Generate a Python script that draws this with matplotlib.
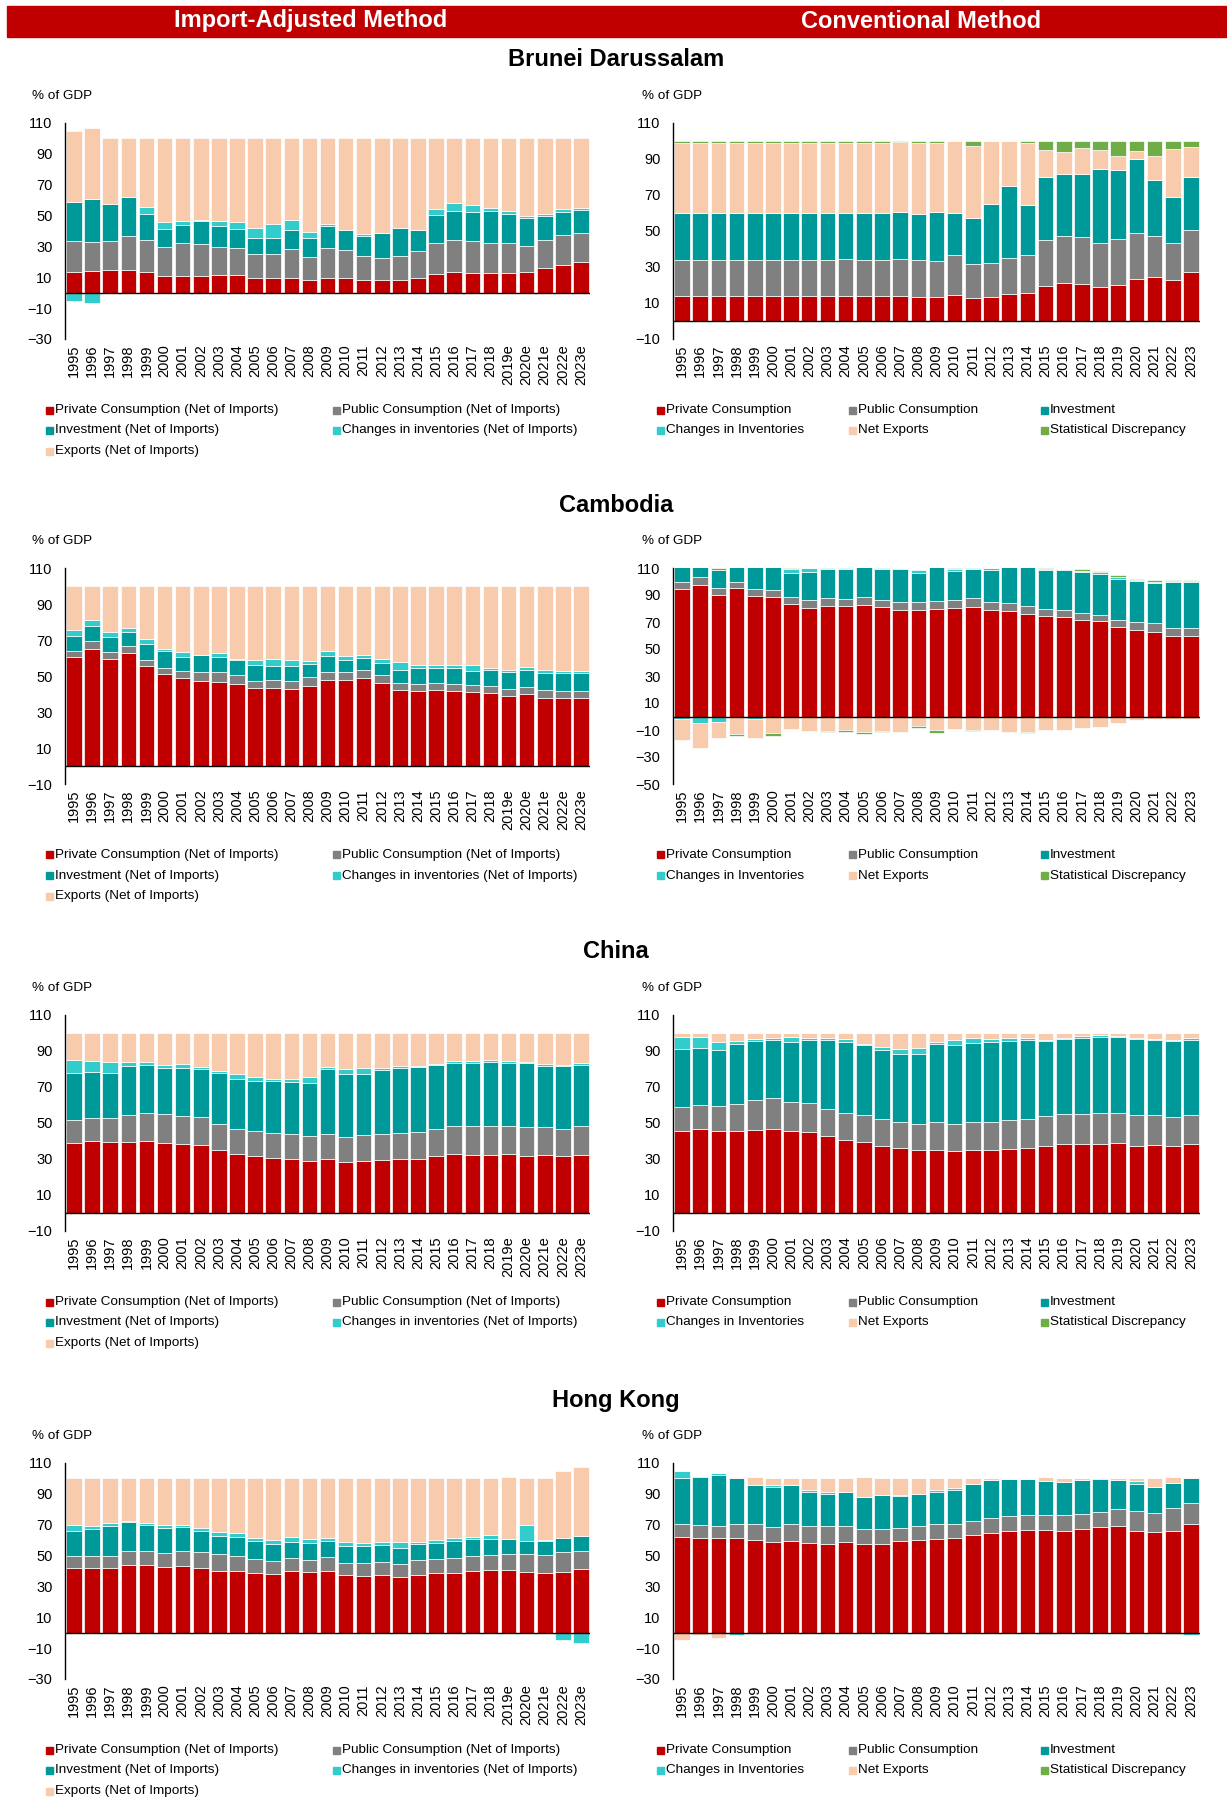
import numpy as np
import matplotlib.pyplot as plt
from matplotlib.patches import Rectangle

plt.rcParams['font.family'] = ['Liberation Sans', 'DejaVu Sans']

# ---------------- data (% of GDP), 1995-2023 ----------------
years = [str(y) for y in range(1995, 2024)]
years_e = years[:24] + ['2019e', '2020e', '2021e', '2022e', '2023e']

# Brunei Darussalam - import-adjusted
bn_adj_private = [13.7, 14.1, 14.5, 14.5, 13.2, 10.6, 10.6, 10.6, 11.3, 11.7, 9.8, 9.4, 9.4, 8.1, 9.8,
                  9.4, 8.1, 8.1, 8.1, 9.4, 11.9, 13.7, 12.6, 12.6, 12.6, 13.2, 16.3, 18.2, 19.7]
bn_adj_public = [19.9, 18.6, 18.9, 22.3, 21.0, 19.3, 21.4, 21.0, 18.6, 17.3, 15.6, 15.5, 19.0, 15.1, 19.2,
                 18.3, 15.7, 14.7, 15.7, 17.5, 20.1, 20.5, 21.2, 19.4, 19.4, 17.1, 17.9, 19.5, 19.1]
bn_adj_invest = [25.5, 28.3, 24.4, 25.1, 16.7, 11.2, 12.2, 14.9, 13.2, 12.1, 9.9, 10.4, 12.1, 12.1, 14.1,
                 12.8, 12.8, 16.2, 18.2, 13.6, 18.2, 19.0, 18.8, 21.2, 19.3, 18.0, 15.4, 14.9, 15.1]
bn_adj_invent = [-5.2, -6.9, -0.5, 0.4, 4.9, 5.0, 2.1, 0.9, 3.2, 5.0, 6.5, 9.5, 6.7, 4.3, 1.7,
                 -0.3, 1.7, 0.0, -0.3, 0.4, 4.3, 5.2, 4.1, 1.6, 1.5, 1.3, 1.5, 1.9, 1.3]
bn_adj_exports = [45.8, 45.9, 42.8, 37.7, 44.2, 53.9, 53.7, 52.6, 53.7, 53.9, 58.2, 55.2, 52.8, 60.4, 55.2,
                  60.1, 61.7, 61.6, 58.6, 59.1, 45.5, 41.6, 43.3, 45.2, 47.2, 50.4, 48.9, 45.5, 44.8]

# Brunei Darussalam - conventional
bn_conv_private = [13.7, 13.7, 13.7, 13.7, 13.7, 13.7, 13.7, 13.7, 13.7, 13.7, 13.7, 13.7, 13.7, 13.3, 13.3,
                   14.3, 12.6, 13.3, 14.8, 15.4, 19.5, 20.9, 20.6, 19.1, 20.2, 23.5, 24.5, 23.0, 27.4]
bn_conv_public = [20.4, 20.4, 20.4, 20.4, 20.4, 20.4, 20.4, 20.4, 20.4, 20.6, 20.4, 20.2, 21.0, 20.4, 20.1,
                  22.6, 18.9, 19.0, 20.4, 21.5, 25.6, 26.4, 26.3, 24.5, 25.2, 25.5, 22.8, 20.2, 22.9]
bn_conv_invest = [26.0, 26.0, 26.0, 26.0, 26.0, 26.0, 26.0, 26.0, 26.0, 25.8, 25.8, 26.3, 25.6, 25.8, 27.4,
                  23.2, 25.8, 32.6, 39.7, 27.3, 34.8, 34.5, 34.5, 41.0, 38.6, 40.8, 31.2, 25.8, 29.6]
bn_conv_invent = [0.0, 0.0, 0.0, 0.0, 0.0, 0.0, 0.0, 0.0, 0.0, 0.0, 0.0, 0.0, 0.0, 0.0, 0.0,
                  0.0, 0.0, 0.0, 0.0, 0.0, 0.0, 0.0, 0.0, 0.0, 0.0, 0.0, 0.0, 0.0, 0.0]
bn_conv_netexp = [38.9, 38.9, 38.9, 38.9, 38.9, 38.9, 38.9, 38.9, 38.9, 38.9, 38.9, 38.9, 39.1, 39.2, 38.2,
                  39.9, 39.9, 35.1, 25.1, 34.5, 14.9, 12.2, 14.5, 10.4, 7.6, 4.4, 13.1, 26.3, 16.5]
bn_conv_statdisc = [1.0, 1.0, 1.0, 1.0, 1.0, 1.0, 1.0, 1.0, 1.0, 1.0, 1.0, 1.0, 0.6, 1.3, 1.0,
                    0.0, 2.8, 0.0, 0.0, 1.3, 5.2, 6.0, 4.1, 5.0, 8.4, 5.8, 8.4, 4.7, 3.6]

# Cambodia - import-adjusted
kh_adj_private = [60.4, 65.0, 59.5, 62.9, 55.3, 51.0, 48.8, 47.0, 46.6, 45.7, 43.2, 43.5, 43.0, 44.6, 47.6,
                  47.6, 48.8, 46.1, 42.2, 41.9, 42.2, 41.9, 41.1, 40.8, 39.1, 39.9, 37.7, 37.8, 37.8]
kh_adj_public = [3.6, 4.5, 4.0, 3.7, 3.6, 3.7, 3.9, 5.3, 5.4, 4.6, 4.2, 4.2, 4.4, 4.6, 4.9,
                 4.5, 4.6, 4.2, 4.1, 3.8, 3.7, 3.8, 3.7, 3.6, 3.9, 4.0, 4.4, 4.1, 4.1]
kh_adj_invest = [8.5, 8.1, 8.2, 7.9, 9.0, 9.2, 8.0, 9.4, 8.7, 8.6, 8.8, 8.1, 8.2, 7.7, 8.6,
                 6.8, 6.4, 6.8, 7.3, 8.8, 8.4, 8.5, 8.1, 8.8, 9.1, 9.3, 9.7, 9.7, 9.7]
kh_adj_invent = [3.1, 3.3, 3.0, 2.0, 2.6, 1.1, 2.4, 0.1, 1.9, 0.7, 2.5, 3.5, 3.5, 1.3, 2.6,
                 2.4, 1.7, 2.2, 4.0, 1.8, 1.7, 1.8, 3.1, 1.1, 1.1, 1.7, 1.3, 1.1, 1.1]
kh_adj_exports = [24.4, 19.1, 25.3, 23.5, 29.5, 35.0, 36.9, 38.2, 37.4, 40.4, 41.3, 40.7, 40.9, 41.8, 36.3,
                  38.7, 38.5, 40.7, 42.4, 43.7, 44.0, 44.0, 44.0, 45.7, 46.8, 45.1, 46.9, 47.3, 47.3]

# Cambodia - conventional
kh_conv_private = [94.4, 97.3, 89.7, 95.1, 89.2, 88.2, 83.3, 80.4, 82.1, 81.8, 82.8, 81.1, 78.9, 78.9, 79.6,
                   80.1, 81.3, 78.9, 78.1, 75.9, 74.2, 73.5, 71.3, 70.5, 66.3, 64.4, 62.9, 59.7, 59.7]
kh_conv_public = [5.6, 5.7, 5.7, 4.4, 4.9, 5.7, 5.4, 6.1, 5.9, 5.4, 5.4, 4.9, 6.1, 6.1, 6.2,
                  6.2, 6.4, 6.1, 5.9, 5.7, 5.7, 5.4, 5.6, 4.9, 5.4, 5.4, 6.6, 6.1, 6.1]
kh_conv_invest = [17.1, 20.7, 13.2, 14.6, 21.5, 20.2, 17.5, 20.4, 20.9, 21.7, 24.4, 22.9, 23.9, 21.2, 26.6,
                  21.6, 21.4, 23.4, 27.6, 30.5, 28.7, 29.7, 29.8, 30.0, 30.3, 30.5, 29.3, 33.7, 33.7]
kh_conv_invent = [-1.8, -4.9, -4.0, 0.0, -2.2, 0.0, 2.9, 3.1, 1.1, 1.1, 0.0, 1.1, 1.1, 2.0, 0.0,
                  1.2, 0.9, 1.6, 0.0, 0.0, 0.8, 1.0, 1.0, 1.5, 1.0, 0.7, 1.0, 1.0, 1.0]
kh_conv_netexp = [-15.3, -18.8, -11.6, -13.1, -13.4, -12.1, -9.4, -10.4, -11.0, -9.7, -11.4, -10.8, -11.2, -7.0, -9.9,
                  -9.4, -9.9, -10.2, -11.6, -11.4, -10.2, -9.9, -8.7, -7.5, -5.0, -2.5, -1.5, -1.5, -1.5]
kh_conv_statdisc = [0.0, 0.0, 1.4, -1.0, 0.0, -2.0, 0.9, 0.0, -0.6, -1.7, -1.2, -0.6, 0.0, -1.2, -2.5,
                    0.9, -0.5, 0.0, 0.0, -0.7, 0.6, 0.0, 1.2, 0.8, 2.0, 1.0, 1.2, 0.7, 0.7]

# China - import-adjusted
cn_adj_private = [39.1, 40.0, 39.5, 39.7, 40.0, 39.1, 38.5, 37.8, 35.0, 33.0, 31.8, 30.7, 30.0, 28.8, 30.0,
                  28.5, 28.8, 29.4, 29.8, 30.2, 31.6, 32.8, 32.4, 32.4, 32.8, 31.5, 32.2, 31.5, 32.2]
cn_adj_public = [12.7, 12.9, 13.4, 14.7, 15.5, 15.9, 15.5, 15.3, 14.4, 13.6, 13.7, 14.0, 13.8, 13.9, 14.1,
                 14.0, 14.4, 14.7, 14.9, 14.7, 15.3, 15.6, 15.9, 15.9, 15.8, 16.2, 15.5, 15.4, 16.1]
cn_adj_invest = [25.9, 25.4, 24.8, 27.3, 26.7, 25.5, 26.5, 26.9, 28.2, 27.8, 27.8, 28.6, 28.9, 29.4, 35.7,
                 34.7, 34.0, 35.3, 35.8, 36.2, 35.1, 34.9, 35.0, 35.6, 34.7, 35.6, 33.8, 34.6, 33.9]
cn_adj_invent = [7.1, 6.3, 6.0, 2.0, 1.7, 1.5, 2.3, 1.1, 1.3, 2.6, 2.0, 1.1, 1.9, 3.2, 1.3,
                 3.0, 3.1, 1.3, 1.2, 0.7, 1.0, 1.0, 1.0, 0.9, 1.0, 0.8, 1.1, 0.7, 0.9]
cn_adj_exports = [15.2, 15.4, 16.3, 16.3, 16.1, 18.0, 17.2, 18.9, 21.1, 23.0, 24.7, 25.6, 25.4, 24.7, 18.9,
                  19.8, 19.7, 19.3, 18.3, 18.2, 17.0, 15.7, 15.7, 15.2, 15.7, 15.9, 17.4, 17.8, 16.9]

# China - conventional
cn_conv_private = [45.7, 46.6, 45.5, 45.5, 46.1, 46.6, 45.5, 44.8, 42.6, 40.5, 39.4, 37.4, 36.1, 35.2, 35.2,
                   34.5, 35.0, 35.0, 35.4, 36.3, 37.4, 38.5, 38.5, 38.5, 39.1, 37.4, 38.0, 37.4, 38.5]
cn_conv_public = [13.4, 13.4, 14.2, 15.1, 16.7, 17.1, 16.4, 16.4, 15.4, 14.8, 14.8, 15.1, 14.7, 14.5, 15.1,
                  14.7, 15.3, 15.8, 16.0, 15.8, 16.4, 16.4, 16.4, 16.8, 16.7, 17.3, 16.2, 16.2, 16.2]
cn_conv_invest = [32.2, 31.9, 31.1, 33.1, 32.6, 32.6, 33.3, 34.7, 38.3, 39.5, 39.2, 38.3, 37.8, 38.9, 43.4,
                  44.2, 44.2, 44.0, 44.0, 43.8, 41.6, 41.6, 42.1, 42.7, 42.2, 41.8, 41.7, 41.8, 41.2]
cn_conv_invent = [6.7, 5.7, 4.4, 1.7, 1.4, 1.1, 2.4, 1.1, 1.1, 2.0, 0.7, 1.3, 2.5, 3.3, 1.5,
                  2.5, 2.9, 2.0, 2.0, 1.5, 0.9, 0.9, 1.1, 0.9, 0.5, 0.9, 0.9, 0.9, 1.1]
cn_conv_netexp = [2.0, 2.4, 4.8, 4.6, 3.2, 2.6, 2.4, 3.0, 2.6, 3.2, 5.9, 7.9, 8.9, 8.1, 4.8,
                  4.1, 2.6, 3.2, 2.6, 2.6, 3.7, 2.6, 1.9, 1.1, 1.5, 2.6, 3.2, 3.7, 3.0]
cn_conv_statdisc = [0.0, 0.0, 0.0, 0.0, 0.0, 0.0, 0.0, 0.0, 0.0, 0.0, 0.0, 0.0, 0.0, 0.0, 0.0,
                    0.0, 0.0, 0.0, 0.0, 0.0, 0.0, 0.0, 0.0, 0.0, 0.0, 0.0, 0.0, 0.0, 0.0]

# Hong Kong - import-adjusted
hk_adj_private = [41.9, 41.9, 42.1, 44.1, 43.9, 42.8, 43.2, 41.9, 40.0, 40.0, 38.7, 38.0, 40.0, 39.3, 40.0,
                  37.6, 37.0, 37.6, 36.3, 37.6, 38.7, 38.9, 40.0, 40.8, 40.8, 39.1, 38.9, 39.6, 41.1]
hk_adj_public = [7.6, 7.6, 7.6, 8.6, 9.2, 9.0, 9.7, 10.2, 10.8, 9.9, 9.0, 8.5, 8.2, 8.0, 8.8,
                 7.8, 8.2, 8.0, 8.4, 9.3, 8.8, 9.5, 9.5, 9.3, 10.0, 11.7, 11.4, 12.7, 12.0]
hk_adj_invest = [16.6, 17.7, 19.4, 19.0, 16.6, 16.0, 15.6, 14.0, 12.0, 12.3, 11.7, 11.2, 10.5, 11.0, 10.8,
                 11.0, 11.2, 11.4, 10.4, 10.8, 10.8, 11.2, 11.4, 10.8, 9.9, 8.6, 9.3, 8.8, 9.7]
hk_adj_invent = [3.9, 1.7, 1.7, 0.6, 1.3, 1.7, 1.0, 1.9, 2.2, 2.2, 1.9, 2.3, 3.1, 2.4, 2.0,
                 2.3, 1.5, 1.7, 3.6, 1.0, 1.7, 2.0, 1.3, 2.4, -0.3, 10.6, 0.4, -4.7, -6.8]
hk_adj_exports = [30.0, 31.1, 29.2, 27.7, 29.0, 30.5, 30.5, 32.0, 35.0, 35.6, 38.7, 40.0, 38.2, 39.3, 38.4,
                  41.3, 42.1, 41.3, 41.3, 41.3, 40.0, 38.4, 37.8, 36.7, 40.1, 30.0, 40.0, 43.8, 44.3]

# Hong Kong - conventional
hk_conv_private = [62.2, 61.6, 61.1, 61.6, 60.3, 58.7, 59.6, 58.1, 57.5, 58.7, 57.5, 57.7, 59.6, 60.3, 60.9,
                   61.6, 63.5, 64.8, 66.1, 66.7, 66.5, 66.1, 67.4, 68.2, 69.3, 66.1, 65.0, 66.1, 70.4]
hk_conv_public = [8.0, 7.9, 8.0, 9.0, 9.9, 9.5, 10.6, 10.8, 11.4, 10.2, 9.7, 9.5, 8.4, 8.6, 9.5,
                  8.8, 8.6, 9.3, 9.3, 9.3, 9.7, 10.3, 9.7, 10.2, 11.0, 13.1, 12.9, 14.6, 13.6]
hk_conv_invest = [30.2, 31.5, 33.2, 30.0, 25.4, 26.4, 25.4, 22.6, 21.3, 22.0, 20.9, 22.0, 20.7, 20.7, 20.5,
                  22.0, 24.0, 25.0, 24.3, 23.7, 22.2, 21.2, 21.6, 21.5, 18.4, 17.1, 16.4, 16.2, 16.6]
hk_conv_invent = [4.3, 0.7, 1.1, -1.3, -0.6, 1.0, 0.0, 0.7, 0.9, 0.6, 0.0, 0.0, 0.5, 0.0, 1.5,
                  1.5, 0.0, 0.0, 0.0, 0.0, -0.6, 0.0, 0.6, 0.5, 0.4, 1.9, 0.0, -0.6, -1.3]
hk_conv_netexp = [-4.5, -1.4, -3.4, 0.6, 5.4, 4.6, 4.8, 8.0, 9.1, 8.7, 12.7, 11.0, 11.0, 10.6, 7.8,
                  6.3, 4.1, 1.1, 0.5, 0.5, 2.6, 2.6, 0.9, 0.0, 1.1, 2.0, 5.9, 4.1, 0.6]
hk_conv_statdisc = [0.0, 0.0, 0.0, 0.0, 0.0, 0.0, 0.0, 0.0, 0.0, 0.0, 0.0, 0.0, 0.0, 0.0, 0.0,
                    0.0, 0.0, 0.0, 0.0, 0.0, 0.0, 0.0, 0.0, 0.0, 0.0, 0.0, 0.0, 0.0, 0.0]

countries = ['Brunei Darussalam', 'Cambodia', 'China', 'Hong Kong']

adj_labels = ['Private Consumption (Net of Imports)', 'Public Consumption (Net of Imports)',
              'Investment (Net of Imports)', 'Changes in inventories (Net of Imports)',
              'Exports (Net of Imports)']
conv_labels = ['Private Consumption', 'Public Consumption', 'Investment',
               'Changes in Inventories', 'Net Exports', 'Statistical Discrepancy']

RED, GRAY, TEAL, CYAN, PEACH, GREEN = '#C00000', '#808080', '#009999', '#33CCCC', '#F8CBAD', '#70AD47'
adj_colors = [RED, GRAY, TEAL, CYAN, PEACH]
conv_colors = [RED, GRAY, TEAL, CYAN, PEACH, GREEN]

adj_data = [
    [bn_adj_private, bn_adj_public, bn_adj_invest, bn_adj_invent, bn_adj_exports],
    [kh_adj_private, kh_adj_public, kh_adj_invest, kh_adj_invent, kh_adj_exports],
    [cn_adj_private, cn_adj_public, cn_adj_invest, cn_adj_invent, cn_adj_exports],
    [hk_adj_private, hk_adj_public, hk_adj_invest, hk_adj_invent, hk_adj_exports],
]
conv_data = [
    [bn_conv_private, bn_conv_public, bn_conv_invest, bn_conv_invent, bn_conv_netexp, bn_conv_statdisc],
    [kh_conv_private, kh_conv_public, kh_conv_invest, kh_conv_invent, kh_conv_netexp, kh_conv_statdisc],
    [cn_conv_private, cn_conv_public, cn_conv_invest, cn_conv_invent, cn_conv_netexp, cn_conv_statdisc],
    [hk_conv_private, hk_conv_public, hk_conv_invest, hk_conv_invent, hk_conv_netexp, hk_conv_statdisc],
]
adj_ylims = [(-30, 110), (-10, 110), (-10, 110), (-30, 110)]
conv_ylims = [(-10, 110), (-50, 110), (-10, 110), (-30, 110)]

# ---------------- layout (pixels) ----------------
W, H = 1227, 1798
fig = plt.figure(figsize=(W / 100, H / 100), dpi=100)


def fx(px):
    return px / W


def fy(py):
    return 1 - py / H


def stacked(ax, series, colors):
    x = np.arange(len(series[0]))
    pos = np.zeros(len(x))
    neg = np.zeros(len(x))
    for vals, c in zip(series, colors):
        v = np.array(vals, dtype=float)
        bottom = np.where(v >= 0, pos, neg)
        ax.bar(x, v, 0.86, bottom=bottom, color=c, edgecolor='white', linewidth=0.5, zorder=2)
        pos += np.clip(v, 0, None)
        neg += np.clip(v, None, 0)


def style_axes(ax, ylim, labels):
    ax.set_ylim(*ylim)
    ax.set_xlim(-0.5, len(labels) - 0.5)
    ax.set_yticks(np.arange(ylim[0], ylim[1] + 1, 20))
    ax.set_xticks(np.arange(len(labels)))
    ax.set_xticklabels(labels, rotation=90, fontsize=10.5)
    ax.tick_params(axis='y', length=0, labelsize=10.5, pad=9)
    ax.tick_params(axis='x', length=0, pad=4)
    for s in ['top', 'right', 'bottom']:
        ax.spines[s].set_visible(False)
    ax.spines['left'].set_color('black')
    ax.spines['left'].set_linewidth(1)
    ax.axhline(0, color='black', lw=1, zorder=3)
    ax.set_facecolor('none')


def legend(labels, colors, cols, y0, ncol):
    for i, (lab, c) in enumerate(zip(labels, colors)):
        r, k = divmod(i, ncol)
        x = cols[k]
        y = y0 + r * 20.5
        fig.patches.append(Rectangle((fx(x), fy(y + 3.5)), 7 / W, 7 / H,
                                     transform=fig.transFigure, color=c))
        fig.text(fx(x + 9), fy(y), lab, fontsize=9.7, va='center', ha='left')


# header band
fig.patches.append(Rectangle((fx(7), fy(37)), 1 - fx(7), 31 / H, transform=fig.transFigure,
                             color=RED))
fig.text(fx(311), fy(21), 'Import-Adjusted Method', color='white', fontsize=17,
         fontweight='bold', ha='center', va='center')
fig.text(fx(921), fy(21), 'Conventional Method', color='white', fontsize=17,
         fontweight='bold', ha='center', va='center')

tops = [123, 568, 1015, 1463]
ax_h = 216
left_x = (65, 590)
right_x = (673, 1200)

for i, name in enumerate(countries):
    top = tops[i]
    fig.text(fx(616), fy(top - 63), name, fontsize=17, fontweight='bold', ha='center', va='center')

    axl = fig.add_axes([fx(left_x[0]), fy(top + ax_h), fx(left_x[1] - left_x[0]), ax_h / H])
    stacked(axl, adj_data[i], adj_colors)
    style_axes(axl, adj_ylims[i], years_e)
    fig.text(fx(32), fy(top - 27), '% of GDP', fontsize=9.7, va='center')

    axr = fig.add_axes([fx(right_x[0]), fy(top + ax_h), fx(right_x[1] - right_x[0]), ax_h / H])
    stacked(axr, conv_data[i], conv_colors)
    style_axes(axr, conv_ylims[i], years)
    fig.text(fx(642), fy(top - 27), '% of GDP', fontsize=9.7, va='center')

    legend(adj_labels, adj_colors, [46, 333], top + 287, 2)
    legend(conv_labels, conv_colors, [657, 849, 1041], top + 287, 3)

fig.savefig('out.png', dpi=100)
